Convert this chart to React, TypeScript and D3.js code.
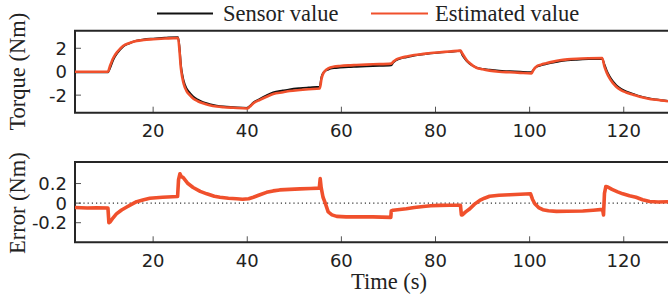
import React, { useEffect, useRef } from 'react';
import * as d3 from 'd3';

// Torque plot: sample times with sensor and estimated torque (Nm)
const torqueTime = [
  3.4, 10.4, 10.8, 11.5, 12.5, 13.6, 15, 16.5, 18, 20, 22.5, 25.3,
  25.6, 25.9, 26.2, 26.5, 27.1, 27.8, 28.5, 29.5, 30.6, 32, 33.5, 35, 37, 40.0,
  40.5, 41.3, 42.7, 44.1, 45.5, 47.6, 49, 51.2, 53, 55.4,
  55.8, 56.2, 56.5, 57.2, 58.5, 59.7, 61.5, 63.2, 66.7, 70.6,
  71.0, 71.7, 72.7, 73.8, 75.5, 77.4, 79, 80.9, 83, 85.3,
  85.7, 86.2, 86.7, 87.3, 88, 88.7, 90, 91.5, 93.5, 95.8, 98, 100.4,
  100.8, 101.4, 102.4, 103.5, 105, 106.4, 108, 110, 112.5, 115.4,
  115.9, 116.4, 117, 117.7, 118.4, 119.4, 120.5, 122, 123.4, 125, 126.9, 129.4,
];
const sensorValue = [
  -0.05, -0.05, 0.27, 1.0, 1.65, 2.14, 2.43, 2.65, 2.75, 2.82, 2.89, 2.95,
  2.1, 0.58, -0.23, -0.8, -1.43, -1.81, -2.12, -2.39, -2.6, -2.77, -2.9, -2.98, -3.03, -3.09,
  -2.95, -2.64, -2.32, -2.03, -1.78, -1.61, -1.51, -1.41, -1.35, -1.28,
  -0.4, -0.08, 0.05, 0.19, 0.31, 0.35, 0.4, 0.43, 0.49, 0.55,
  0.77, 0.99, 1.14, 1.23, 1.38, 1.49, 1.57, 1.64, 1.7, 1.78,
  1.43, 1.14, 0.88, 0.66, 0.49, 0.35, 0.24, 0.16, 0.08, 0.035, -0.01, -0.045,
  0.16, 0.41, 0.54, 0.65, 0.78, 0.89, 0.97, 1.03, 1.08, 1.1,
  0.6, 0.07, -0.41, -0.83, -1.15, -1.47, -1.69, -1.9, -2.09, -2.25, -2.38, -2.51,
];
const estimatedValue = [
  0, 0, 0.45, 1.15, 1.75, 2.2, 2.45, 2.63, 2.71, 2.77, 2.83, 2.88,
  1.8, 0.3, -0.5, -1.05, -1.65, -2.0, -2.28, -2.52, -2.7, -2.86, -2.97, -3.03, -3.08, -3.14,
  -3.0, -2.7, -2.4, -2.14, -1.9, -1.75, -1.65, -1.56, -1.5, -1.43,
  -0.57, -0.1, 0.06, 0.28, 0.44, 0.49, 0.54, 0.57, 0.63, 0.69,
  0.85, 1.06, 1.2, 1.29, 1.42, 1.52, 1.6, 1.66, 1.72, 1.8,
  1.55, 1.23, 0.95, 0.72, 0.5, 0.34, 0.2, 0.09, 0.0, -0.05, -0.1, -0.14,
  0.15, 0.43, 0.6, 0.72, 0.86, 0.97, 1.05, 1.11, 1.15, 1.17,
  0.43, -0.1, -0.57, -0.98, -1.28, -1.57, -1.77, -1.97, -2.14, -2.28, -2.4, -2.52,
];

// Error plot: sample times and error (Nm)
const errorTime = [
  3.4, 6, 8, 10.4, 10.6, 10.9, 11.5, 12.2, 13.3, 14.4, 15.5, 16.5, 18, 19.3, 22, 25.2,
  25.4, 25.7, 26, 26.4, 27.4, 28.5, 30, 31.4, 33, 34.2, 36, 37.7, 39, 40.3,
  41.3, 42.7, 44.1, 45.5, 46.9, 49, 51.2, 53.5, 55.3,
  55.5, 55.7, 56.1, 56.5, 57.2, 58, 59, 61, 63.2, 66.7, 70.5,
  70.6, 71, 73.8, 75.5, 77.4, 79, 80.9, 83, 85.3,
  85.5, 85.7, 86.4, 87.3, 88.3, 89.4, 90.4, 91.5, 93.5, 95.8, 98, 100.2,
  100.6, 101.1, 101.9, 102.8, 104, 105.7, 108, 111.3, 113.5, 115.5,
  115.7, 115.9, 116.2, 116.6, 117.5, 118.7, 119.8, 121.2, 122.6, 124, 125.5, 127.3, 129.4,
];
const errorValue = [
  -0.045, -0.05, -0.048, -0.05, -0.2, -0.19, -0.15, -0.11, -0.07, -0.04, -0.01, 0.015, 0.035, 0.05, 0.06, 0.068,
  0.24, 0.3, 0.27, 0.26, 0.2, 0.16, 0.12, 0.095, 0.07, 0.06, 0.05, 0.045, 0.04, 0.045,
  0.06, 0.085, 0.11, 0.125, 0.135, 0.14, 0.146, 0.15, 0.153,
  0.25, 0.16, 0.06, 0.01, -0.09, -0.12, -0.135, -0.14, -0.14, -0.14, -0.145,
  -0.08, -0.072, -0.057, -0.045, -0.034, -0.027, -0.023, -0.022, -0.022,
  -0.12, -0.12, -0.09, -0.057, -0.01, 0.027, 0.05, 0.07, 0.08, 0.085, 0.09, 0.095,
  0.04, -0.006, -0.045, -0.067, -0.078, -0.084, -0.083, -0.081, -0.073, -0.064,
  -0.12, 0.1, 0.17, 0.165, 0.14, 0.115, 0.095, 0.075, 0.06, 0.035, 0.017, 0.012, 0.014,
];

const xTicks = [20, 40, 60, 80, 100, 120];
const torqueTicks = [-2, 0, 2];
const errorTicks = [-0.2, 0, 0.2];

const ESTIMATED_COLOR = '#f0502c';
const SERIF = '"Liberation Serif", "Times New Roman", serif';
const SANS = '"DejaVu Sans", sans-serif';

const App: React.FC = () => {
  const ref = useRef<SVGSVGElement>(null);

  useEffect(() => {
    if (!ref.current) return;
    const svg = d3.select(ref.current);
    svg.selectAll('*').remove();

    const width = 668;
    const left = 75;
    const right = 668;

    const x = d3.scaleLinear().domain([3.4, 129.4]).range([left, right]);
    const yTop = d3.scaleLinear().domain([-3.5, 3.5]).range([112.7, 30.7]);
    const yBot = d3.scaleLinear().domain([-0.4, 0.42]).range([242.3, 162]);

    // Axis frame: left, top and bottom lines with inward ticks
    const drawFrame = (
      y: d3.ScaleLinear<number, number>,
      yTicks: number[],
      fmt: (v: number) => string
    ) => {
      const [y0, y1] = y.range();
      const g = svg.append('g');
      xTicks.forEach(t => {
        g.append('line')
          .attr('x1', x(t)).attr('x2', x(t))
          .attr('y1', y0).attr('y2', y0 - 6)
          .attr('stroke', '#555').attr('stroke-width', 1);
        g.append('text')
          .attr('x', x(t)).attr('y', y0 + 24.5)
          .attr('text-anchor', 'middle')
          .style('font-family', SANS).style('font-size', '18px')
          .attr('fill', '#222')
          .text(t);
      });
      yTicks.forEach(v => {
        g.append('line')
          .attr('x1', left).attr('x2', left + 6)
          .attr('y1', y(v)).attr('y2', y(v))
          .attr('stroke', '#555').attr('stroke-width', 1);
        g.append('text')
          .attr('x', left - 8).attr('y', y(v) + 6.5)
          .attr('text-anchor', 'end')
          .style('font-family', SANS).style('font-size', '18px')
          .attr('fill', '#222')
          .text(fmt(v));
      });
      g.append('path')
        .attr('d', `M${width + 2},${y1}H${left}V${y0}H${width + 2}`)
        .attr('fill', 'none')
        .attr('stroke', '#262626')
        .attr('stroke-width', 2);
    };

    drawFrame(yTop, torqueTicks, v => (v < 0 ? `-${-v}` : `${v}`));
    drawFrame(yBot, errorTicks, v => (v < 0 ? `-${-v}` : `${v}`));

    // Zero reference in error plot
    svg.append('line')
      .attr('x1', left).attr('x2', right)
      .attr('y1', yBot(0)).attr('y2', yBot(0))
      .attr('stroke', '#333')
      .attr('stroke-width', 1.2)
      .attr('stroke-dasharray', '1.2,3');

    // Torque lines
    const topLine = d3.line<[number, number]>()
      .x(d => x(d[0]))
      .y(d => yTop(d[1]))
      .curve(d3.curveMonotoneX);

    svg.append('path')
      .attr('d', topLine(torqueTime.map((t, i) => [t, sensorValue[i]]))!)
      .attr('fill', 'none')
      .attr('stroke', '#111')
      .attr('stroke-width', 2);

    svg.append('path')
      .attr('d', topLine(torqueTime.map((t, i) => [t, estimatedValue[i]]))!)
      .attr('fill', 'none')
      .attr('stroke', ESTIMATED_COLOR)
      .attr('stroke-width', 2.6);

    // Error line
    const errLine = d3.line<[number, number]>()
      .x(d => x(d[0]))
      .y(d => yBot(d[1]));

    svg.append('path')
      .attr('d', errLine(errorTime.map((t, i) => [t, errorValue[i]]))!)
      .attr('fill', 'none')
      .attr('stroke', ESTIMATED_COLOR)
      .attr('stroke-width', 3.6)
      .attr('stroke-linejoin', 'round');

    // Legend
    const legend = [
      { label: 'Sensor value', color: '#111', x0: 157, x1: 213, tx: 223 },
      { label: 'Estimated value', color: ESTIMATED_COLOR, x0: 371, x1: 428, tx: 435 },
    ];
    legend.forEach(l => {
      svg.append('line')
        .attr('x1', l.x0).attr('x2', l.x1)
        .attr('y1', 13.5).attr('y2', 13.5)
        .attr('stroke', l.color)
        .attr('stroke-width', 2);
      svg.append('text')
        .attr('x', l.tx).attr('y', 21)
        .style('font-family', SERIF).style('font-size', '22.5px')
        .attr('fill', '#222')
        .text(l.label);
    });

    // Axis titles
    svg.append('text')
      .attr('transform', `translate(25,${yTop(0)}) rotate(-90)`)
      .attr('text-anchor', 'middle')
      .style('font-family', SERIF).style('font-size', '22.5px')
      .attr('fill', '#222')
      .text('Torque (Nm)');

    svg.append('text')
      .attr('transform', `translate(25,${yBot(0)}) rotate(-90)`)
      .attr('text-anchor', 'middle')
      .style('font-family', SERIF).style('font-size', '22.5px')
      .attr('fill', '#222')
      .text('Error (Nm)');

    svg.append('text')
      .attr('x', 389).attr('y', 289)
      .attr('text-anchor', 'middle')
      .style('font-family', SERIF).style('font-size', '22.5px')
      .attr('fill', '#222')
      .text('Time (s)');
  }, []);

  return (
    <svg
      ref={ref}
      width={668}
      height={300}
      style={{ position: 'absolute', left: 0, top: 0, background: '#fff' }}
    />
  );
};

export default App;
